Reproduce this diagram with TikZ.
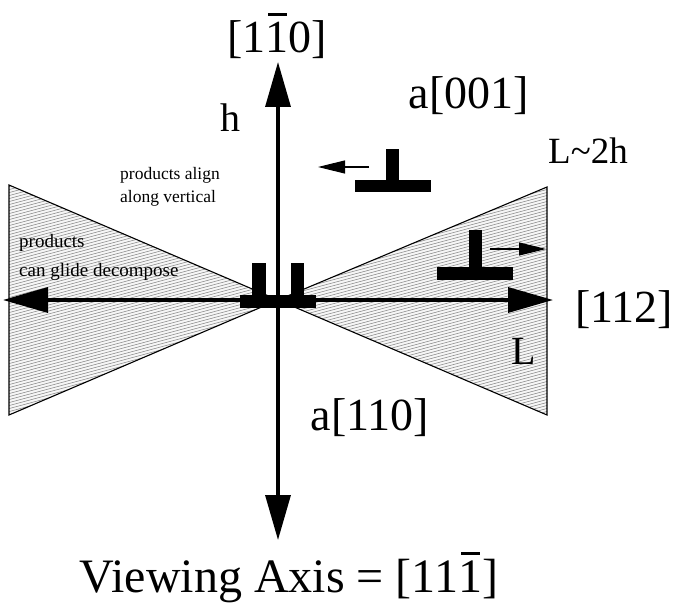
\documentclass[tikz,border=0pt]{standalone}
\usepackage{fontspec}
\setmainfont{Liberation Serif}
\usetikzlibrary{arrows.meta}
\newcommand{\barone}{\leavevmode\rlap{\kern0.06em\rule[0.78em]{0.4em}{0.065em}}1}
\definecolor{Hatch}{RGB}{135,135,135}
\definecolor{Shade}{RGB}{246,246,246}
\tikzset{
  wedge/.style={draw=black,line width=1.1pt,line join=miter},
  axis/.style={{Triangle[length=45pt,width=25pt]}-{Triangle[length=45pt,width=25pt]},line width=3.4pt,draw=black},
  glide/.style={-{Triangle[length=27pt,width=13pt]},line width=1.1pt,draw=black},
  slab/.style={fill=black,draw=none,inner sep=0pt,minimum width=76pt,minimum height=12.5pt},
  stem/.style={fill=black,draw=none,inner sep=0pt,minimum width=13.5pt},
  biglabel/.style={font=\fontsize{46}{48}\selectfont,inner sep=0pt},
  midlabel/.style={font=\fontsize{40}{42}\selectfont,inner sep=0pt},
  tinylabel/.style={font=\fontsize{17.5}{23}\selectfont,align=left,inner sep=0pt,anchor=west}
}
\begin{document}
\begin{tikzpicture}[x=1pt,y=-1pt]
\useasboundingbox (0,0) rectangle (674,607);
% wedges
\coordinate (apex) at (278,300);
\coordinate (lefttop) at (9,185); \coordinate (leftbot) at (9,415);
\coordinate (righttop) at (547,187); \coordinate (rightbot) at (547,415);
\fill[Shade] (lefttop)--(apex)--(leftbot)--cycle (righttop)--(apex)--(rightbot)--cycle;
\begin{scope}
\clip (lefttop)--(apex)--(leftbot)--cycle (righttop)--(apex)--(rightbot)--cycle;
\foreach \y in {102,105,...,600} \draw[Hatch,line width=0.55pt] (0,\y+75)--(560,\y-75);
\end{scope}
\draw[wedge] (lefttop)--(apex)--(leftbot)--cycle;
\draw[wedge] (righttop)--(apex)--(rightbot)--cycle;
% axes
\coordinate (west) at (3,300); \coordinate (east) at (553,300);
\coordinate (north) at (278,62); \coordinate (south) at (278,540);
\draw[axis] (west)--(east);
\draw[axis] (south)--(north);
% dislocations
\node[slab] (centerbar) at (278,301.5) {};
\node[stem,minimum height=33pt,anchor=south] (centerl) at (259,296) {};
\node[stem,minimum height=33pt,anchor=south] (centerr) at (297.5,296) {};
\node[slab] (upperbar) at (393,186) {};
\node[stem,minimum height=32pt,anchor=south] (upperstem) at (392.5,181) {};
\node[slab] (lowerbar) at (475,273.5) {};
\node[stem,minimum height=38pt,anchor=south] (lowerstem) at (475.5,268) {};
% glide arrows
\coordinate (upperfrom) at (369,167); \coordinate (upperto) at (318,167);
\coordinate (lowerfrom) at (490,249); \coordinate (lowerto) at (546,249);
\draw[glide] (upperfrom)--(upperto);
\draw[glide] (lowerfrom)--(lowerto);
% labels
\node[biglabel] (topdir) at (277,36) {[1\barone0]};
\node[midlabel] (hlab) at (230,118) {h};
\node[biglabel] (acomp) at (469,96) {a[001]};
\node[font=\fontsize{37}{39}\selectfont,inner sep=0pt] (ratio) at (588,151) {L\char"7E 2h};
\node[tinylabel] (align) at (120,187) {products align\\along vertical};
\node[tinylabel,font=\fontsize{19}{29}\selectfont] (decomp) at (19,257) {products\\can glide decompose};
\node[biglabel] (rightdir) at (624,310) {[112]};
\node[midlabel] (llab) at (524,351) {L};
\node[biglabel] (bcomp) at (370,418) {a[110]};
\node[font=\fontsize{48}{50}\selectfont,inner sep=0pt] (view) at (289,577) {Viewing Axis = [11\barone]};
\end{tikzpicture}
\end{document}
